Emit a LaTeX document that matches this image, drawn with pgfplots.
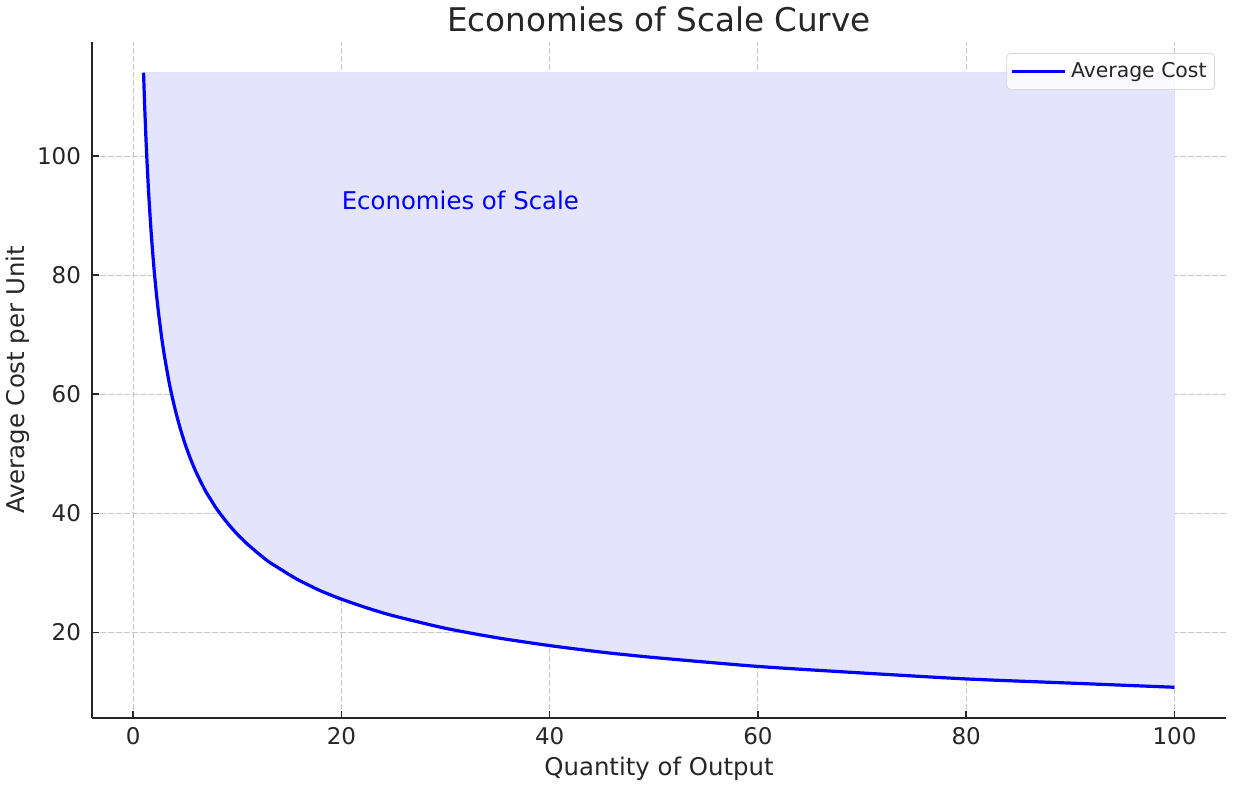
\documentclass[border=0pt]{standalone}
\usepackage{pgfplots}
\pgfplotsset{compat=1.18}
\usetikzlibrary{calc}
\usepackage{fontspec}
\setmainfont{DejaVu Sans}
\definecolor{txt}{RGB}{38,38,38}
\definecolor{fillc}{RGB}{228,228,253}
\definecolor{gridc}{RGB}{200,200,200}
\pgfplotstableread{
x y
1 114.0
1.1 108.8
1.2 104.3
1.25 102.2
1.35 98.5
1.5 93.5
1.75 86.7
2 81.2
2.25 76.6
2.5 72.8
2.75 69.4
3 66.5
3.5 61.6
4 57.7
4.5 54.4
5 51.6
5.5 49.2
6 47.1
6.5 45.3
7 43.6
7.5 42.2
8 40.8
9 38.5
10 36.5
11 34.8
12 33.3
13 31.9
14 30.8
15 29.7
16 28.7
18 27.0
20 25.6
22.5 24.1
25 22.8
30 20.7
35 19.1
40 17.8
45 16.7
50 15.8
60 14.3
70 13.2
80 12.2
90 11.5
100 10.8
}\ACdata
\begin{document}
\begin{tikzpicture}
\begin{axis}[
  scale only axis,
  width=567pt, height=338pt,
  xmin=-3.95, xmax=104.95,
  ymin=5.64, ymax=119.16,
  axis x line*=bottom, axis y line*=left,
  axis line style={-, line width=0.9pt, draw=txt},
  xtick={0,20,40,60,80,100},
  ytick={20,40,60,80,100},
  tick align=inside,
  major tick length=3.5pt,
  tick style={line width=0.8pt, txt},
  grid=major,
  major grid style={gridc, dash pattern=on 2.8pt off 1.2pt, line width=0.5pt},
  /pgf/number format/assume math mode=true,
  ticklabel style={font=\fontsize{11.5}{13}\selectfont, text=txt},
  yticklabel style={xshift=-2pt},
  xticklabel style={yshift=-1.2pt},
  xlabel={Quantity of Output},
  ylabel={Average Cost per Unit},
  label style={font=\fontsize{12.2}{14}\selectfont, text=txt},
  xlabel style={at={(axis description cs:0.5,0)}, anchor=center, yshift=-25.5pt},
  ylabel style={at={(axis description cs:0,0.5)}, anchor=center, yshift=37pt, rotate=0},
  title={Economies of Scale Curve},
  title style={font=\fontsize{16.3}{19}\selectfont, text=txt, at={(axis description cs:0.5,1)}, anchor=center, yshift=5.5pt},
  legend style={at={(1,1)}, anchor=north east, xshift=-5.5pt, yshift=-5.5pt,
    font=\fontsize{10.2}{12}\selectfont, text=txt, draw=black!15, rounded corners=2pt,
    fill=white, fill opacity=0.8, text opacity=1, inner xsep=2pt, inner ysep=2.5pt},
  legend cell align=left,
  legend image code/.code={\path (0pt,0pt) -- (26.5pt,0pt); \draw[#1] (0pt,0pt) -- (20.5pt,0pt);},
]
\addplot[draw=blue!12, line width=0.5pt, fill=fillc, forget plot] table[x=x,y=y] {\ACdata} -- (axis cs:100,114) -- cycle;
\addplot[blue, line width=1.6pt, smooth, tension=0.4] table[x=x,y=y] {\ACdata};
\addlegendentry{Average Cost}
\node[anchor=west, inner sep=0pt, text=blue, font=\fontsize{12.2}{14}\selectfont] at (axis cs:20,92.5) {Economies of Scale};
\end{axis}
\pgfresetboundingbox
\path[use as bounding box] ($(current axis.south west)+(-46pt,-37pt)$) rectangle ($(current axis.north east)+(5pt,21pt)$);
\end{tikzpicture}
\end{document}
